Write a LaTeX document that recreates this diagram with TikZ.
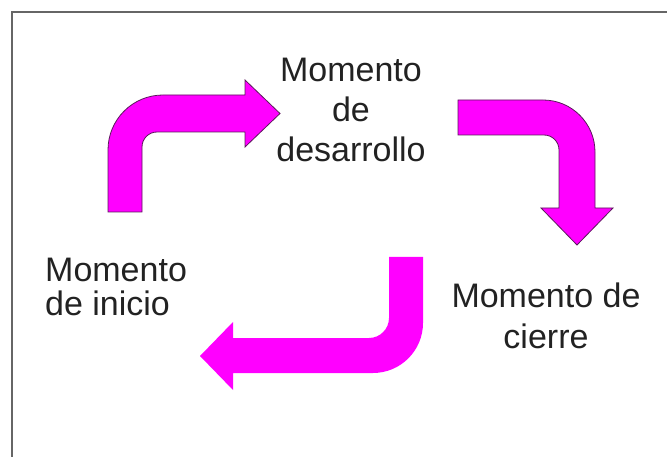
\documentclass[tikz,border=0pt]{standalone}
\usepackage{fontspec}
\setmainfont{Liberation Sans}
\definecolor{arrowfill}{HTML}{FF00FF}
\definecolor{arrowline}{HTML}{5A1A5A}
\definecolor{txt}{HTML}{222222}
\definecolor{frame}{HTML}{666666}
\begin{document}
\begin{tikzpicture}[x=1pt,y=-1pt,
  label text/.style={text=txt,inner sep=0pt,align=center,anchor=base},
  bentarrow/.style={fill=arrowfill,draw=arrowline,line width=0.8pt,line join=miter},
  bentarrow plain/.style={fill=arrowfill},
  frameline/.style={draw=frame,line width=2.6pt}]
\useasboundingbox (0,0) rectangle (667,457);
% frame (top and left edges only)
\draw[frameline] (12,457) -- (12,12) -- (667,12);
% arrow 1: up then right
\path[bentarrow] (108,212) -- (108,150) .. controls (108,119.6) and (132.6,95) .. (163,95)
  -- (245,95) -- (245,80) -- (280,113.5) -- (245,147) -- (245,132) -- (157,132)
  .. controls (148.7,132) and (142,138.7) .. (142,147) -- (142,212) -- cycle;
% arrow 2: right then down
\path[bentarrow] (458,100) -- (543,100) .. controls (571.7,100) and (595,123.3) .. (595,152)
  -- (595,208) -- (613,208) -- (577,245) -- (541,208) -- (559,208) -- (559,150)
  .. controls (559,141.7) and (552.3,135) .. (544,135) -- (458,135) -- cycle;
% arrow 3: down then left
\path[bentarrow plain] (389,257) -- (423,257) -- (423,323) .. controls (423,350.6) and (400.6,373) .. (373,373)
  -- (233,373) -- (233,390) -- (200,356) -- (233,322) -- (233,338) -- (369,338)
  .. controls (380,338) and (389,329) .. (389,318) -- cycle;
% labels (base anchor = baseline of last line)
\node[label text,font=\fontsize{34}{40}\selectfont] (desarrollo) at (351,162) {Momento\\de\\desarrollo};
\node[label text,font=\fontsize{34}{34}\selectfont,align=left,anchor=base west] (inicio) at (45,316) {Momento\\de inicio};
\node[label text,font=\fontsize{34}{41}\selectfont] (cierre) at (546,348) {Momento de\\cierre};
\end{tikzpicture}
\end{document}
